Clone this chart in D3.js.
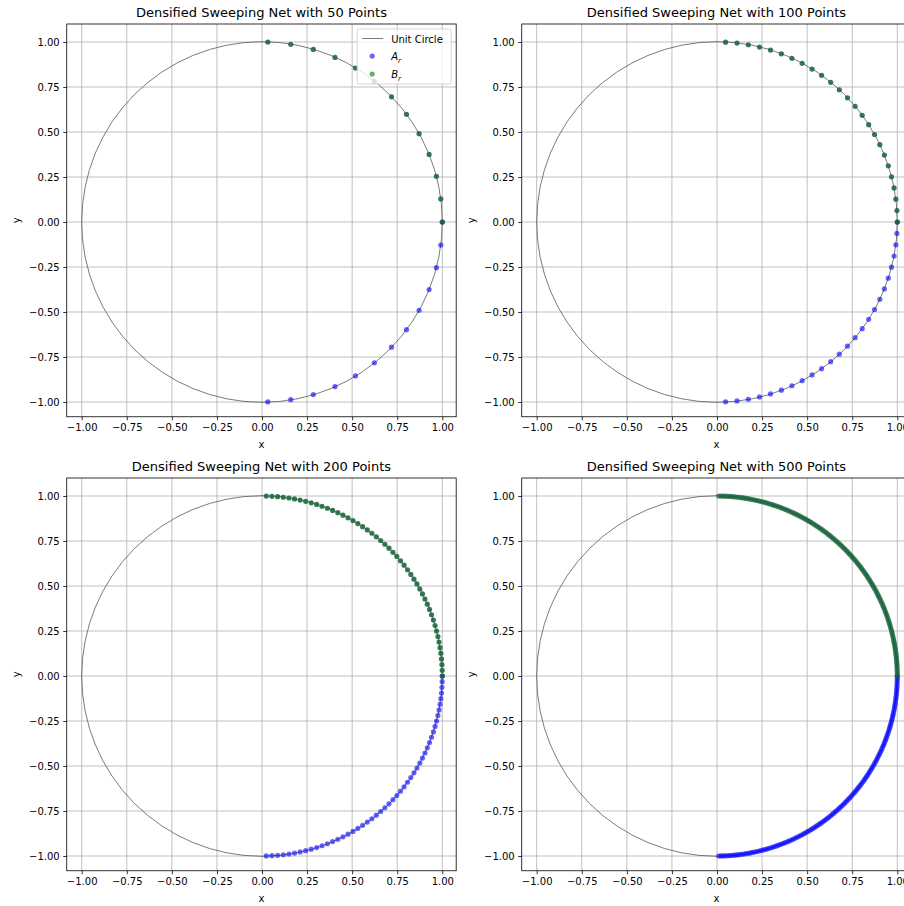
<!DOCTYPE html>
<html>
<head>
<meta charset="utf-8">
<script src="https://cdn.jsdelivr.net/npm/d3@7"></script>
<style>
  body { margin: 0; background: #fff; }
  svg { display: block; font-family: "DejaVu Sans", sans-serif; }
</style>
</head>
<body>
<svg id="chart" width="904" height="906"></svg>
<script>
// ---- data ----
const pointCounts = [50, 100, 200, 500];
const titles = pointCounts.map(n => `Densified Sweeping Net with ${n} Points`);
const tickValues = [-1.00, -0.75, -0.50, -0.25, 0.00, 0.25, 0.50, 0.75, 1.00];

// B_r angles (degrees) on the upper-right quarter; A_r are the mirrored angles (negated) on the lower-right quarter
const brAngles50 = [0, 7.35, 14.69, 22.04, 29.39, 36.73, 44.08, 51.43, 58.78, 66.12, 73.47, 80.82, 88.16];
const brAngles100 = [0, 3.64, 7.27, 10.91, 14.55, 18.18, 21.82, 25.45, 29.09, 32.73, 36.36, 40.00, 43.64,
  47.27, 50.91, 54.55, 58.18, 61.82, 65.45, 69.09, 72.73, 76.36, 80.00, 83.64, 87.27];
const brAngles200 = [0, 1.81, 3.62, 5.43, 7.24, 9.05, 10.85, 12.66, 14.47, 16.28, 18.09, 19.90, 21.71,
  23.52, 25.33, 27.14, 28.94, 30.75, 32.56, 34.37, 36.18, 37.99, 39.80, 41.61, 43.42, 45.23, 47.04,
  48.84, 50.65, 52.46, 54.27, 56.08, 57.89, 59.70, 61.51, 63.32, 65.13, 66.93, 68.74, 70.55, 72.36,
  74.17, 75.98, 77.79, 79.60, 81.41, 83.22, 85.03, 86.83, 88.64];
const brAngles500 = [0, 0.72, 1.44, 2.16, 2.89, 3.61, 4.33, 5.05, 5.77, 6.49, 7.21, 7.94, 8.66, 9.38,
  10.10, 10.82, 11.54, 12.26, 12.99, 13.71, 14.43, 15.15, 15.87, 16.59, 17.31, 18.04, 18.76, 19.48,
  20.20, 20.92, 21.64, 22.36, 23.09, 23.81, 24.53, 25.25, 25.97, 26.69, 27.41, 28.14, 28.86, 29.58,
  30.30, 31.02, 31.74, 32.46, 33.19, 33.91, 34.63, 35.35, 36.07, 36.79, 37.52, 38.24, 38.96, 39.68,
  40.40, 41.12, 41.84, 42.57, 43.29, 44.01, 44.73, 45.45, 46.17, 46.89, 47.62, 48.34, 49.06, 49.78,
  50.50, 51.22, 51.94, 52.67, 53.39, 54.11, 54.83, 55.55, 56.27, 56.99, 57.72, 58.44, 59.16, 59.88,
  60.60, 61.32, 62.04, 62.77, 63.49, 64.21, 64.93, 65.65, 66.37, 67.09, 67.82, 68.54, 69.26, 69.98,
  70.70, 71.42, 72.14, 72.87, 73.59, 74.31, 75.03, 75.75, 76.47, 77.19, 77.92, 78.64, 79.36, 80.08,
  80.80, 81.52, 82.24, 82.97, 83.69, 84.41, 85.13, 85.85, 86.57, 87.29, 88.02, 88.74, 89.46];
const angleSets = [brAngles50, brAngles100, brAngles200, brAngles500];
const legendLabels = ["Unit Circle", "A", "B"];

// ---- layout ----
const svg = d3.select("#chart");
const colOffset = 455, rowOffset = 454;
const xLim = [-1.083, 1.077], yLim = [-1.082, 1.1];
const blueFill = "rgba(0,0,255,0.6)";
const greenFill = "#15633a";
const fmt = d3.format(".2f");
const toXY = deg => [Math.cos(deg * Math.PI / 180), Math.sin(deg * Math.PI / 180)];

pointCounts.forEach((n, i) => {
  const col = i % 2, row = Math.floor(i / 2);
  const x = d3.scaleLinear().domain([-1, 1]).range([81.7 + col * colOffset, 442.3 + col * colOffset]);
  const y = d3.scaleLinear().domain([-1, 1]).range([402 + row * rowOffset, 42 + row * rowOffset]);
  const fx0 = x(xLim[0]), fx1 = x(xLim[1]), fy0 = y(yLim[1]), fy1 = y(yLim[0]);
  const g = svg.append("g");

  const clipId = "clip" + i;
  svg.append("clipPath").attr("id", clipId).append("rect")
    .attr("x", fx0).attr("y", fy0).attr("width", fx1 - fx0).attr("height", fy1 - fy0);

  // grid
  const grid = g.append("g");
  grid.selectAll("line.gx").data(tickValues).join("line")
    .attr("x1", d => x(d)).attr("x2", d => x(d)).attr("y1", fy0).attr("y2", fy1)
    .attr("stroke", "#b0b0b0").attr("stroke-width", 0.8);
  grid.selectAll("line.gy").data(tickValues).join("line")
    .attr("y1", d => y(d)).attr("y2", d => y(d)).attr("x1", fx0).attr("x2", fx1)
    .attr("stroke", "#b0b0b0").attr("stroke-width", 0.8);

  const plot = g.append("g").attr("clip-path", `url(#${clipId})`);
  // unit circle
  plot.append("circle")
    .attr("cx", x(0)).attr("cy", y(0)).attr("r", x(1) - x(0))
    .attr("fill", "none").attr("stroke", "#444").attr("stroke-width", 0.7);

  const angles = angleSets[i];
  const dense = angles.length > 60;
  // A_r (lower right)
  plot.append("g").selectAll("circle").data(angles).join("circle")
    .attr("cx", d => x(toXY(-d)[0])).attr("cy", d => y(toXY(-d)[1]))
    .attr("r", 2.6).attr("fill", blueFill);
  // B_r (upper right)
  plot.append("g").selectAll("circle").data(angles).join("circle")
    .attr("cx", d => x(toXY(d)[0])).attr("cy", d => y(toXY(d)[1]))
    .attr("r", 2.6).attr("fill", greenFill).attr("fill-opacity", dense ? 0.7 : 0.85);

  // axes
  const ax = g.append("g").attr("transform", `translate(0,${fy1})`)
    .call(d3.axisBottom(x).tickValues(tickValues).tickFormat(fmt).tickSize(3.5).tickPadding(3.5));
  const ay = g.append("g").attr("transform", `translate(${fx0},0)`)
    .call(d3.axisLeft(y).tickValues(tickValues).tickFormat(fmt).tickSize(3.5).tickPadding(3.5));
  [ax, ay].forEach(a => {
    a.select(".domain").remove();
    a.selectAll("text").attr("font-size", 10).attr("fill", "#000").attr("font-family", "DejaVu Sans");
    a.selectAll("line").attr("stroke", "#000").attr("stroke-width", 0.8);
  });

  // frame
  g.append("rect").attr("x", fx0).attr("y", fy0).attr("width", fx1 - fx0).attr("height", fy1 - fy0)
    .attr("fill", "none").attr("stroke", "#000").attr("stroke-width", 0.8);

  // title and labels
  g.append("text").attr("x", (fx0 + fx1) / 2).attr("y", fy0 - 7)
    .attr("text-anchor", "middle").attr("font-size", 13).text(titles[i]);
  g.append("text").attr("x", (fx0 + fx1) / 2).attr("y", fy1 + 31)
    .attr("text-anchor", "middle").attr("font-size", 10).text("x");
  g.append("text").attr("transform", `translate(${fx0 - 47},${(fy0 + fy1) / 2}) rotate(-90)`)
    .attr("text-anchor", "middle").attr("font-size", 10).text("y");

  // legend (first panel only)
  if (i === 0) {
    const lg = g.append("g").attr("transform", `translate(${fx1 - 99},${fy0 + 5})`);
    lg.append("rect").attr("width", 94).attr("height", 55).attr("rx", 2)
      .attr("fill", "rgba(255,255,255,0.8)").attr("stroke", "#cccccc").attr("stroke-width", 0.8);
    lg.append("line").attr("x1", 5).attr("x2", 26).attr("y1", 9.5).attr("y2", 9.5)
      .attr("stroke", "#444").attr("stroke-width", 0.7);
    lg.append("circle").attr("cx", 15).attr("cy", 27).attr("r", 2.6).attr("fill", blueFill);
    lg.append("circle").attr("cx", 15).attr("cy", 45).attr("r", 2.6).attr("fill", "rgba(0,128,0,0.6)");
    lg.append("text").attr("x", 34).attr("y", 13.5).attr("font-size", 10).text(legendLabels[0]);
    [legendLabels[1], legendLabels[2]].forEach((lab, k) => {
      const t = lg.append("text").attr("x", 34).attr("y", 31 + k * 18).attr("font-size", 10);
      t.append("tspan").attr("font-style", "italic").text(lab);
      t.append("tspan").attr("font-style", "italic").attr("font-size", 7).attr("dy", 2.5).text("r");
    });
  }
});
</script>
</body>
</html>
